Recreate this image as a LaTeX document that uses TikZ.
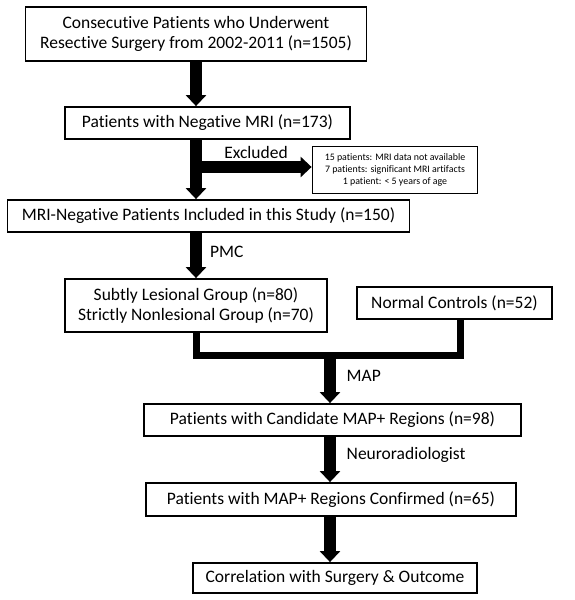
\documentclass[tikz,border=0pt]{standalone}
\usepackage{fontspec}
\setmainfont{Carlito}[Ligatures=NoCommon]
\usetikzlibrary{arrows.meta}
\tikzset{
  box/.style={draw, line width=1.8pt, inner sep=0pt, align=center,
    font=\fontsize{17.5}{20.5}\selectfont},
  smallbox/.style={draw, line width=1.8pt, inner sep=0pt, align=center,
    font=\fontsize{9.9}{12.3}\selectfont},
  lbl/.style={font=\fontsize{17.5}{20.5}\selectfont, inner sep=0pt},
  bigarrow/.style={line width=11.5pt, -{Triangle[width=20pt,length=11pt]}},
  merge/.style={line width=7pt, line join=miter}
}
\begin{document}
\begin{tikzpicture}[x=1pt,y=-1pt]
\useasboundingbox[fill=white] (0,0) rectangle (575,600);
\node[box, minimum width=341pt, minimum height=54pt] (b1) at (196,34)
  {Consecutive Patients who Underwent\\Resective Surgery from 2002-2011 (n=1505)};
\node[box, minimum width=285pt, minimum height=32pt] (b2) at (207.5,123)
  {Patients with Negative MRI (n=173)};
\node[smallbox, minimum width=165pt, minimum height=47pt] (excl) at (395,170)
  {15 patients: MRI data not available\\7 patients: significant MRI artifacts\\1 patient: {<} 5 years of age};
\node[box, minimum width=402pt, minimum height=32pt] (b3) at (208.5,216)
  {MRI-Negative Patients Included in this Study (n=150)};
\node[box, minimum width=262pt, minimum height=53pt] (b4) at (196,305.5)
  {Subtly Lesional Group (n=80)\\Strictly Nonlesional Group (n=70)};
\node[box, minimum width=195pt, minimum height=32pt] (b5) at (454.5,303)
  {Normal Controls (n=52)};
\node[box, minimum width=377pt, minimum height=32pt] (b6) at (332.5,420)
  {Patients with Candidate MAP+ Regions (n=98)};
\node[box, minimum width=370pt, minimum height=33pt] (b7) at (331,499.5)
  {Patients with MAP+ Regions Confirmed (n=65)};
\node[box, minimum width=284pt, minimum height=30pt] (b8) at (335,578)
  {Correlation with Surgery \& Outcome};

\coordinate (br) at (196,167);
\coordinate (j) at (330,355.5);

\draw[bigarrow] (b1.south) -- (b1.south |- b2.north);
\draw[bigarrow] (b1.south |- b2.south) -- (b1.south |- b3.north);
\draw[bigarrow] (br) -- (br -| excl.west);
\draw[bigarrow] (b1.south |- b3.south) -- (b4.north);
\draw[merge] (b4.south) |- (j) -| ([xshift=5.5pt]b5.south);
\draw[bigarrow] ([yshift=-3pt]j) -- (j |- b6.north);
\draw[bigarrow] (j |- b6.south) -- (j |- b7.north);
\draw[bigarrow] (j |- b7.south) -- (j |- b8.north);

\node[lbl] (lex) at (256,152) {Excluded};
\node[lbl, anchor=west] (lpmc) at (210,252) {PMC};
\node[lbl, anchor=west] (lmap) at (346.5,376) {MAP};
\node[lbl, anchor=west] (lneu) at (346.5,455) {Neuroradiologist};
\end{tikzpicture}
\end{document}
